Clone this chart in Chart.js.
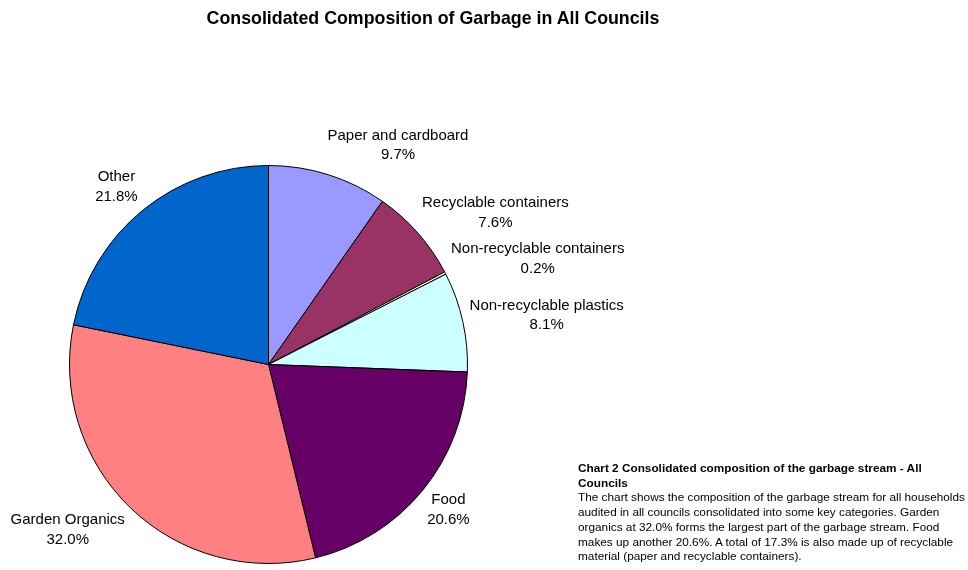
<!DOCTYPE html>
<html lang="en">
<head>
    <meta charset="UTF-8"/>
    <title>Consolidated Composition of Garbage in All Councils</title>
    <script src="https://cdn.jsdelivr.net/npm/chart.js"></script>
    <style>
        html, body {
            margin: 0;
            padding: 0;
            background: #fff;
            width: 968px;
            height: 570px;
            overflow: hidden;
            font-family: 'Liberation Sans', Arial, sans-serif;
        }
        .wrap {
            position: relative;
            width: 968px;
            height: 570px;
        }
        .chart-title {
            position: absolute;
            left: 0;
            top: 8px;
            width: 866px;
            text-align: center;
            font-size: 17.8px;
            font-weight: bold;
            color: #000;
        }
        .note {
            position: absolute;
            left: 578px;
            top: 461px;
            width: 388px;
            font-size: 11.8px;
            line-height: 14.7px;
            color: #000;
        }
        .note b { display: block; }
        canvas { position: absolute; left: 0; top: 0; }
    </style>
</head>
<body>
<div class="wrap">
    <canvas id="garbagePie" width="968" height="570"></canvas>
    <div class="chart-title">Consolidated Composition of Garbage in All Councils</div>
    <div class="note">
        <b>Chart 2 Consolidated composition of the garbage stream - All Councils</b>
        The chart shows the composition of the garbage stream for all households audited in all councils consolidated into some key categories. Garden organics at 32.0% forms the largest part of the garbage stream. Food makes up another 20.6%. A total of 17.3% is also made up of recyclable material (paper and recyclable containers).
    </div>
</div>

<script>
    const categories = ['Paper and cardboard', 'Recyclable containers', 'Non-recyclable containers',
        'Non-recyclable plastics', 'Food', 'Garden Organics', 'Other'];
    const shares = [9.7, 7.6, 0.2, 8.1, 20.6, 32.0, 21.8];
    const sliceColours = ['#9999FF', '#993366', '#FFFFCC', '#CCFFFF', '#660066', '#FF8080', '#0066CC'];

    // category name and percentage, placed just outside each slice
    const outsideLabels = {
        id: 'outsideLabels',
        afterDatasetsDraw(chart) {
            const ctx = chart.ctx;
            const arcs = chart.getDatasetMeta(0).data;
            const lineH = 19.5;
            ctx.save();
            ctx.font = '15px "Liberation Sans", Arial, sans-serif';
            ctx.fillStyle = '#000';
            ctx.textBaseline = 'middle';
            ctx.textAlign = 'center';
            arcs.forEach((arc, i) => {
                const lines = [categories[i], shares[i].toFixed(1) + '%'];
                const mid = (arc.startAngle + arc.endAngle) / 2;
                const r = arc.outerRadius + 11;
                const px = arc.x + Math.cos(mid) * r;
                const py = arc.y + Math.sin(mid) * r;
                const dx = Math.cos(mid);   // right positive
                const up = -Math.sin(mid);  // up positive
                const w = Math.max(...lines.map(t => ctx.measureText(t).width));
                const h = lineH * lines.length;
                let left;
                if (dx > 0.15) left = px - 4;
                else if (dx < -0.15) left = px - w + 2;
                else left = px - w / 2;
                const top = py - h / 2 - (h / 2) * up;
                lines.forEach((t, k) => {
                    ctx.fillText(t, left + w / 2, top + lineH * (k + 0.5));
                });
            });
            ctx.restore();
        }
    };

    new Chart(document.getElementById('garbagePie'), {
        type: 'pie',
        data: {
            labels: categories,
            datasets: [{
                data: shares,
                backgroundColor: sliceColours,
                borderColor: '#000',
                borderWidth: 1
            }]
        },
        options: {
            responsive: false,
            animation: false,
            layout: {
                padding: { left: 69, right: 500, top: 165, bottom: 6 }
            },
            plugins: {
                legend: { display: false },
                tooltip: { enabled: false }
            }
        },
        plugins: [outsideLabels]
    });
</script>
</body>
</html>
